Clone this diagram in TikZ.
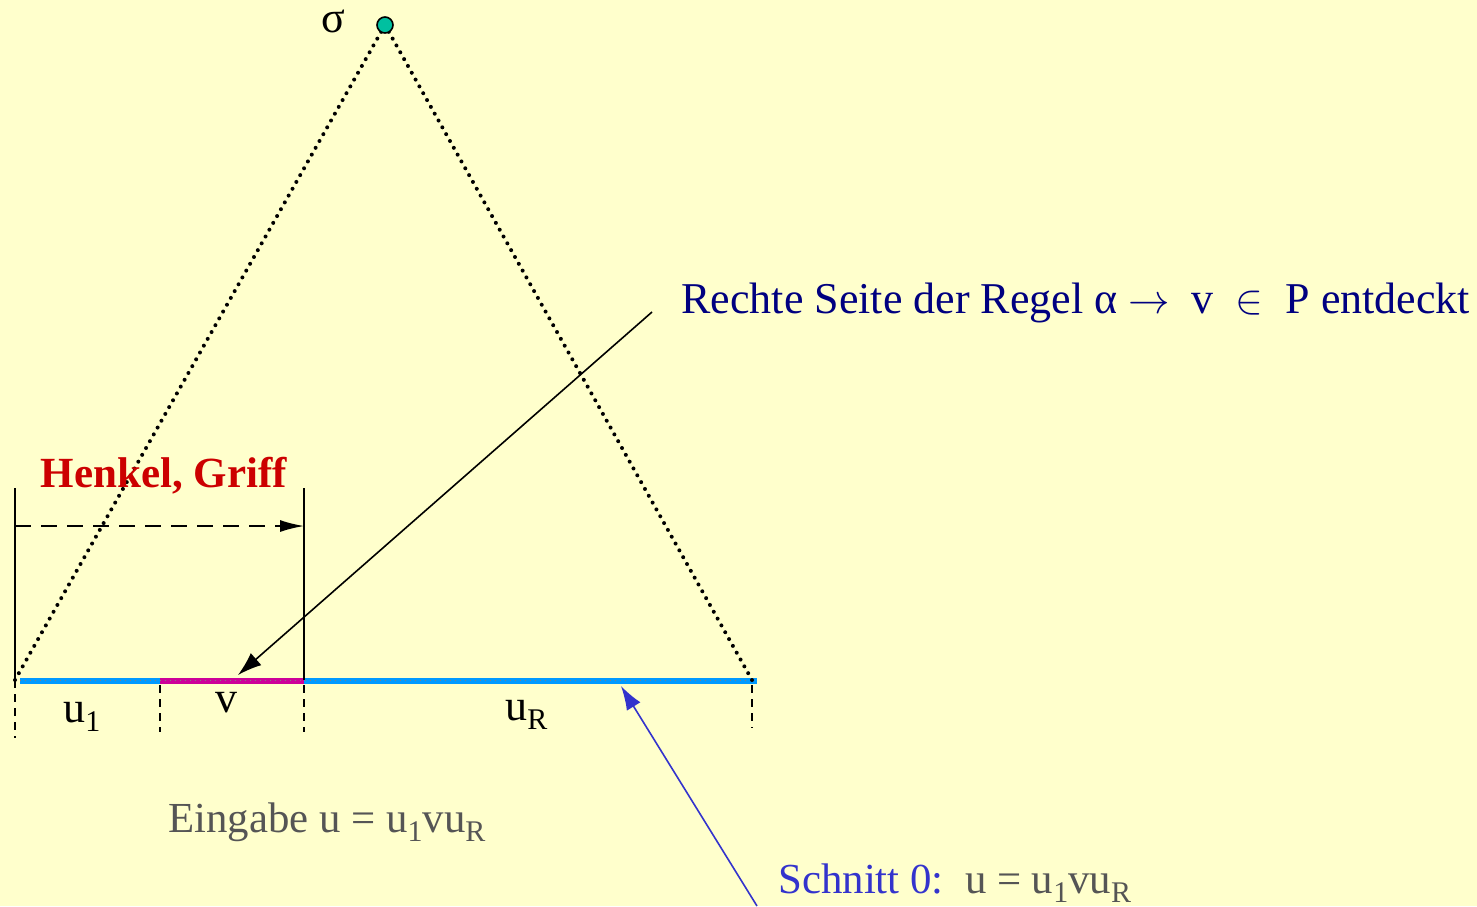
\documentclass[tikz,border=0pt]{standalone}
\usepackage{fontspec}
\setmainfont{Liberation Serif}
\usetikzlibrary{arrows.meta,calc}
\definecolor{bg}{RGB}{255,255,204}
\definecolor{navy}{RGB}{0,0,128}
\definecolor{henkred}{RGB}{204,0,0}
\definecolor{lblue}{RGB}{0,153,255}
\definecolor{magen}{RGB}{204,0,153}
\definecolor{schblue}{RGB}{51,51,204}
\definecolor{txgray}{RGB}{85,85,85}
\definecolor{teal}{RGB}{0,192,160}
\newcommand{\sbs}[1]{\raisebox{-4.5pt}{\fontsize{15}{15}\selectfont #1}}
\tikzset{
  big/.style={font=\fontsize{22}{26}\selectfont, inner sep=0pt, anchor=base west},
  mid/.style={font=\fontsize{21.4}{26}\selectfont, inner sep=0pt, anchor=base west},
  tick/.style={dashed, dash pattern=on 4pt off 3pt, line width=0.7pt},
}
\begin{document}
\begin{tikzpicture}[x=0.5pt,y=-0.5pt]
\fill[bg] (0,0) rectangle (1477,906);
\useasboundingbox (0,0) rectangle (1477,906);
% coordinates
\coordinate (apex) at (385,25);
\coordinate (bl) at (15,680);
\coordinate (br) at (752,680);
\coordinate (m1) at (160,680);
\coordinate (m2) at (304,680);
% baseline coloured strip
\draw[lblue, line width=3pt] (20,681) -- (160,681);
\draw[magen, line width=3pt] (160,681) -- (304,681);
\draw[lblue, line width=3pt] (304,681) -- (757,681);
\draw[gray, dotted, line width=0.5pt] (bl) -- (br);
% triangle (dotted sides)
\foreach \i in {0,...,96} {
  \fill ($(apex)!\i/96!(bl)$) circle (1pt);
  \fill ($(apex)!\i/96!(br)$) circle (1pt);
}
% dashed ticks
\draw[tick] (15,680) -- (15,738);
\draw[tick] (160,685) -- (160,732);
\draw[tick] (304,685) -- (304,732);
\draw[tick] (752,685) -- (752,728);
% handle
\coordinate (h1t) at (15,488);
\coordinate (h2t) at (304,488);
\draw[line width=0.8pt] (h1t) -- (bl);
\draw[line width=0.8pt] (h2t) -- (m2);
\coordinate (ha) at (15,526);
\coordinate (hb) at (304,526);
\draw[line width=0.8pt, dash pattern=on 8pt off 5pt, -{Latex[length=12pt,width=6pt]}] (ha) -- (hb);
\node[big, font=\fontsize{21.5}{26}\selectfont\bfseries, text=henkred, anchor=base] (henkel) at (164,487) {Henkel, Griff};
% apex dot
\node[circle, draw=black, line width=0.8pt, fill=teal, minimum size=8pt, inner sep=0pt] (sigma) at (apex) {};
\node[big] (sigl) at (321,32) {σ};
% labels
\node[big] (u1) at (63,722) {u\sbs{1}};
\node[big] (vl) at (215,712) {v};
\node[big] (uR) at (505,720) {u\sbs{R}};
% rule text
\node[big, text=navy] (rule) at (681,313) {Rechte Seite der Regel α $\rightarrow$\ \ v \ $\in$\ \ P entdeckt};
\coordinate (ra) at (652,312);
\coordinate (rb) at (238,675);
\draw[line width=0.8pt, -{Latex[length=12pt,width=8pt]}] (ra) -- (rb);
% Eingabe
\node[mid, text=txgray] (eing) at (168,832) {Eingabe u = u\sbs{1}vu\sbs{R}};
% Schnitt
\node[mid] (schn) at (778,893) {\textcolor{schblue}{Schnitt 0:}\ \ \textcolor{txgray}{u = u\sbs{1}vu\sbs{R}}};
\coordinate (sa) at (757,906);
\coordinate (sb) at (621,686);
\draw[schblue, line width=0.8pt, -{Latex[length=12pt,width=8pt]}] (sa) -- (sb);
\end{tikzpicture}
\end{document}
